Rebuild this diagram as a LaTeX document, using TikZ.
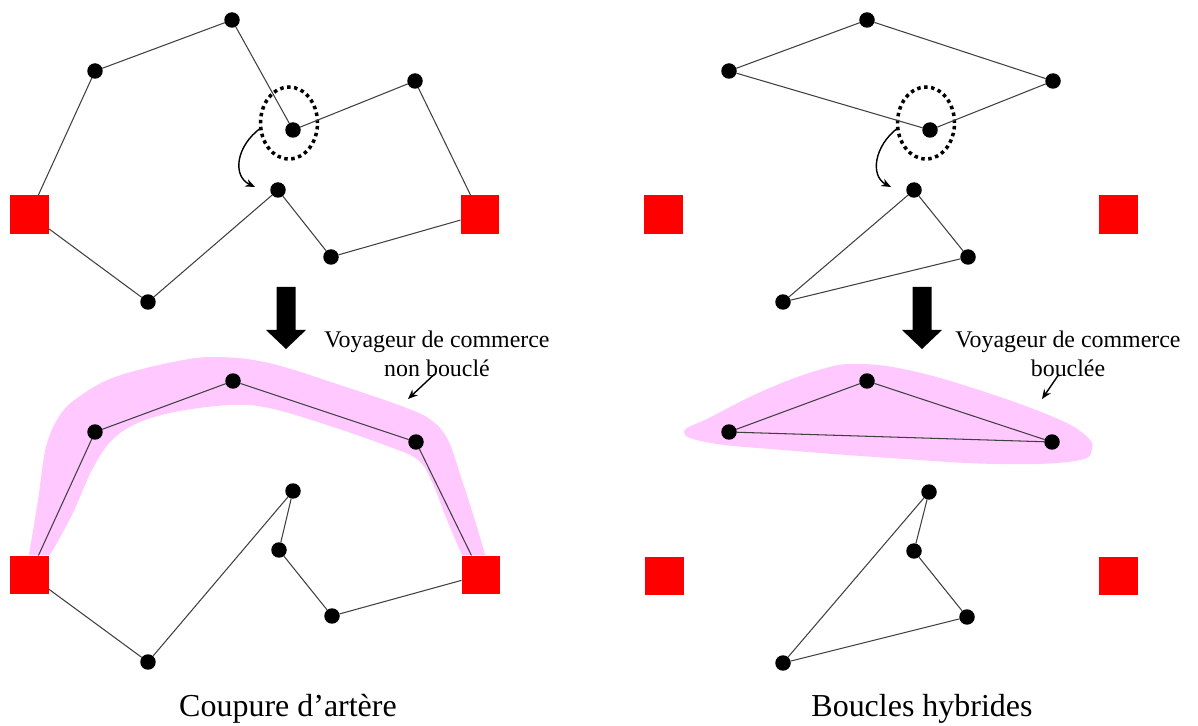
\documentclass[tikz,border=0pt]{standalone}
\usepackage{fontspec}
\setmainfont{Liberation Serif}
\usetikzlibrary{arrows.meta,positioning,shapes.geometric}
\definecolor{bandpink}{RGB}{255,200,255}

\begin{document}
\begin{tikzpicture}[x=0.02cm, y=-0.02cm,
    every node/.style={inner sep=0pt, outer sep=0pt},
    site/.style={circle, fill=black, minimum size=0.31cm},
    depot/.style={rectangle, fill=red, minimum size=0.78cm},
    link/.style={draw=black!75, line width=0.6pt},
    cut/.style={ellipse, draw, line width=2pt, dash pattern=on 2pt off 2pt,
                minimum width=1.14cm, minimum height=1.44cm},
    pointer/.style={-{Stealth[length=5.5pt, width=4.5pt]}, line width=0.8pt},
    note/.style={font=\fontsize{13.6}{16.4}\selectfont, align=center},
    caption/.style={font=\fontsize{18.2}{20}\selectfont}]
    \useasboundingbox (0,0) rectangle (1198,726);

    % Pink highlights (drawn first, behind everything)
    \fill[bandpink] plot[smooth, tension=0.6] coordinates {
        (29,555) (38,500) (46,447) (60,415) (80,396) (115,377) (173,362)
        (215,357) (269,363) (346,387) (404,407) (431,420) (448,440)
        (462,480) (477,527) (485,555)}
        -- plot[smooth, tension=0.6] coordinates {
        (462,555) (447,520) (432,482) (418,460) (390,447) (327,425)
        (269,408) (231,405) (180,411) (140,422) (112,440) (92,470)
        (72,515) (50,555)} -- cycle;
    \fill[bandpink] plot[smooth cycle, tension=0.7] coordinates {
        (684,432) (711,417) (765,390) (819,370) (856,364) (908,370)
        (979,390) (1051,416) (1084,434) (1092,449) (1075,461) (997,464)
        (890,458) (783,450) (711,443)};

    % Top left: network before the cut
    \node[depot] (dl1) at (29.5,214.5) {};
    \node[depot] (dr1) at (480,214.5) {};
    \node[site] (a1) at (95,71) {};
    \node[site] (b1) at (232,20) {};
    \node[site] (c1) at (293,130) {};
    \node[site] (d1) at (415,81) {};
    \node[site] (e1) at (278,190) {};
    \node[site] (f1) at (331,257) {};
    \node[site] (g1) at (148,302) {};
    \node[cut] (cut1) at (289,123) {};
    \draw[link] (dl1) -- (a1) -- (b1) -- (c1) -- (d1) -- (dr1) -- (f1) -- (e1) -- (g1) -- (dl1);
    \draw[pointer] (cut1.190) .. controls (236,146) and (232,176) .. ([shift={(-23,-3)}]e1.center);

    % Top right: network before the cut
    \node[depot] (dl2) at (663.5,214.5) {};
    \node[depot] (dr2) at (1118,214.5) {};
    \node[site] (a2) at (729,71) {};
    \node[site] (b2) at (867,20) {};
    \node[site] (c2) at (1053,81) {};
    \node[site] (d2) at (930,130) {};
    \node[site] (e2) at (914,190) {};
    \node[site] (f2) at (968,257) {};
    \node[site] (g2) at (783,302) {};
    \node[cut] (cut2) at (926,123) {};
    \draw[link] (a2) -- (b2) -- (c2) -- (d2) -- (a2);
    \draw[link] (e2) -- (f2) -- (g2) -- (e2);
    \draw[pointer] (cut2.190) .. controls (874,146) and (870,176) .. ([shift={(-23,-3)}]e2.center);

    % Transition arrows
    \foreach \cx in {286,922}
        \fill (\cx-9.5,287) -- (\cx+9.5,287) -- (\cx+9.5,330) -- (\cx+20,330)
              -- (\cx,349) -- (\cx-20,330) -- (\cx-9.5,330) -- cycle;

    % Bottom left: after the cut
    \node[depot] (dl3) at (29.5,575) {};
    \node[depot] (dr3) at (481,575) {};
    \node[site] (a3) at (95,432) {};
    \node[site] (b3) at (233,381) {};
    \node[site] (c3) at (416,442) {};
    \node[site] (h3) at (293,491) {};
    \node[site] (e3) at (279,550) {};
    \node[site] (f3) at (332,616) {};
    \node[site] (g3) at (148,662) {};
    \draw[link] (dl3) -- (a3) -- (b3) -- (c3) -- (dr3) -- (f3) -- (e3) -- (h3) -- (g3) -- (dl3);

    % Bottom right: after the cut
    \node[depot] (dl4) at (664,576) {};
    \node[depot] (dr4) at (1118,576) {};
    \node[site] (a4) at (729,432) {};
    \node[site] (b4) at (867,381) {};
    \node[site] (c4) at (1052,442) {};
    \node[site] (h4) at (929,492) {};
    \node[site] (e4) at (914,551) {};
    \node[site] (f4) at (967,617) {};
    \node[site] (g4) at (783,663) {};
    \draw[link] (a4) -- (b4) -- (c4) -- (a4);
    \draw[link] (h4) -- (e4) -- (f4) -- (g4) -- (h4);

    % Labels
    \node[note, anchor=north] (tspL) at (437,331) {Voyageur de commerce\\non bouclé};
    \node[note, anchor=north] (tspR) at (1068,331) {Voyageur de commerce\\bouclée};
    \coordinate (tipL) at (408,399);
    \coordinate (tipR) at (1042,399);
    \draw[pointer] ([shift={(-3,-2)}]tspL.south) -- (tipL);
    \draw[pointer] ([shift={(-10,-1)}]tspR.south) -- (tipR);

    \node[caption, anchor=base] (capL) at (288,716) {Coupure d’artère};
    \node[caption, anchor=base] (capR) at (922,716) {Boucles hybrides};
\end{tikzpicture}
\end{document}
